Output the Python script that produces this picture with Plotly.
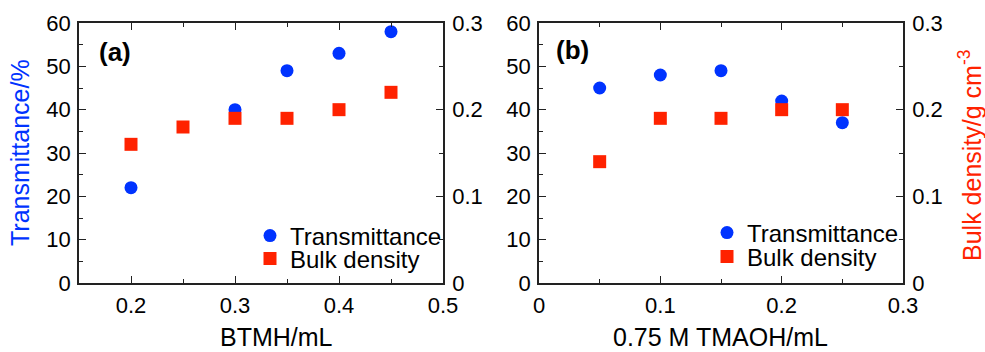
import plotly.graph_objects as go

# Panel (a)
a_x_trans = [0.2, 0.3, 0.35, 0.4, 0.45]
a_trans = [22, 40, 49, 53, 58]
a_x_dens = [0.2, 0.25, 0.3, 0.35, 0.4, 0.45]
a_dens = [0.16, 0.18, 0.19, 0.19, 0.20, 0.22]

# Panel (b)
b_x = [0.05, 0.1, 0.15, 0.2, 0.25]
b_trans = [45, 48, 49, 42, 37]
b_dens = [0.14, 0.19, 0.19, 0.20, 0.20]

BLUE = "#0033ff"
RED = "#ff2200"
FONT = "Liberation Sans"
W, H = 985, 352

def px_x(p):
    return p / W
def px_y(p):
    return 1 - p / H

fig = go.Figure()

circ = dict(symbol="circle", size=13, color=BLUE)
sq = dict(symbol="square", size=13, color=RED)

fig.add_trace(go.Scatter(x=a_x_trans, y=a_trans, mode="markers", marker=circ,
                         name="Transmittance", xaxis="x", yaxis="y", legend="legend"))
fig.add_trace(go.Scatter(x=a_x_dens, y=a_dens, mode="markers", marker=sq,
                         name="Bulk density", xaxis="x", yaxis="y2", legend="legend2"))
fig.add_trace(go.Scatter(x=b_x, y=b_trans, mode="markers", marker=circ,
                         name="Transmittance", xaxis="x2", yaxis="y3", legend="legend3"))
fig.add_trace(go.Scatter(x=b_x, y=b_dens, mode="markers", marker=sq,
                         name="Bulk density", xaxis="x2", yaxis="y4", legend="legend4"))

ydom = [px_y(283), px_y(23)]
line_c = "#222222"
tickfont = dict(family=FONT, size=22, color="black")

def xax(dom, rng, dtick, tick0, minor, anchor):
    return dict(domain=dom, range=rng, dtick=dtick, tick0=tick0, anchor=anchor,
                automargin=False,
                showline=True, linecolor=line_c, linewidth=1.5, mirror="ticks",
                ticks="inside", ticklen=7, tickwidth=1.2, tickcolor=line_c,
                minor=dict(ticks="inside", dtick=minor, tick0=tick0, ticklen=4, tickwidth=1.2, tickcolor=line_c),
                showgrid=False, zeroline=False, tickfont=tickfont, ticklabelstandoff=2)

def yax(rng, dtick, minor, anchor, side="left", overlaying=None):
    d = dict(domain=ydom, range=rng, dtick=dtick, tick0=0, anchor=anchor, side=side,
             automargin=False,
             showline=True, linecolor=line_c, linewidth=1.5,
             ticks="inside", ticklen=7, tickwidth=1.2, tickcolor=line_c,
             minor=dict(ticks="inside", dtick=minor, tick0=0, ticklen=4, tickwidth=1.2, tickcolor=line_c),
             showgrid=False, zeroline=False, tickfont=tickfont,
             ticklabelstandoff=2 if side == "left" else 3)
    if overlaying:
        d["overlaying"] = overlaying
    return d

def leg(xp, yp):
    return dict(x=px_x(xp), y=px_y(yp), xanchor="left", yanchor="middle",
                bgcolor="rgba(0,0,0,0)", font=dict(family=FONT, size=24, color="black"),
                itemsizing="trace")

def ann(text, xp, yp, size, color="black", angle=0, xanchor="center"):
    return dict(text=text, x=px_x(xp), y=px_y(yp), xref="paper", yref="paper",
                xanchor=xanchor, yanchor="middle", showarrow=False, textangle=angle,
                font=dict(family=FONT, size=size, color=color))

fig.update_layout(
    width=W, height=H, margin=dict(l=0, r=0, t=0, b=0),
    plot_bgcolor="white", paper_bgcolor="white",
    showlegend=True,
    font=dict(family=FONT, color="black"),
    xaxis=xax([px_x(79), px_x(443)], [0.15, 0.5], 0.1, 0.2, 0.05, "y"),
    yaxis=yax([0, 60], 10, 5, "x"),
    yaxis2=yax([0, 0.3], 0.1, 0.05, "x", side="right", overlaying="y"),
    xaxis2=xax([px_x(539), px_x(903)], [0, 0.3], 0.1, 0, 0.05, "y3"),
    yaxis3=yax([0, 60], 10, 5, "x2"),
    yaxis4=yax([0, 0.3], 0.1, 0.05, "x2", side="right", overlaying="y3"),
    legend=leg(250, 236),
    legend2=leg(250, 259),
    legend3=leg(707, 233),
    legend4=leg(707, 257),
    annotations=[
        ann("<b>(a)</b>", 97, 52, 26, xanchor="left"),
        ann("<b>(b)</b>", 554, 50, 26, xanchor="left"),
        ann("BTMH/mL", 276, 337, 25),
        ann("0.75 M TMAOH/mL", 720, 337, 25),
        ann("Transmittance/%", 20, 153, 25, color=BLUE, angle=-90),
        ann("Bulk density/g cm<sup>-3</sup>", 970, 156, 25, color=RED, angle=-90),
    ],
)

fig.write_html("out.html")
